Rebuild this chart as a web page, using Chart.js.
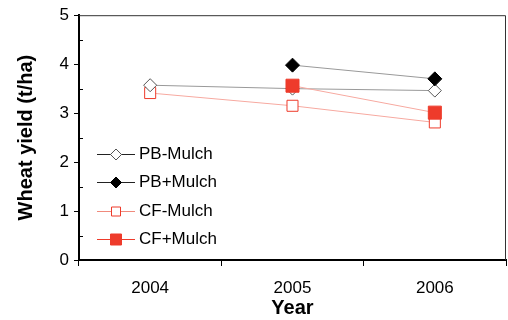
<!DOCTYPE html>
<html lang="en">
<head>
    <meta charset="UTF-8">
    <title>Wheat yield</title>
    <script src="https://cdn.jsdelivr.net/npm/chart.js"></script>
    <style>
        html, body { margin: 0; padding: 0; background: #fff; }
        #wrap { width: 508px; height: 320px; }
    </style>
</head>
<body>
    <div id="wrap"><canvas id="yieldChart" width="508" height="320"></canvas></div>

    <script>
        // values (t/ha)
        var years = ['2004', '2005', '2006'];
        var pbNoMulch = [3.57, 3.50, 3.46];
        var pbMulch = [null, 3.98, 3.70];
        var cfNoMulch = [3.41, 3.15, 2.81];
        var cfMulch = [null, 3.56, 3.01];
        var yTicks = [0, 1, 2, 3, 4, 5];

        var RED = '#ee3b2b';
        var FONT = "'Liberation Sans', Arial, sans-serif";

        // top / right frame plus the small inside minor ticks
        var framePlugin = {
            id: 'frame',
            afterDraw: function (chart) {
                var a = chart.chartArea, c = chart.ctx, y = chart.scales.y;
                c.save();
                c.strokeStyle = '#333';
                c.lineWidth = 1;
                c.beginPath();
                c.moveTo(a.left, a.top + 0.5);
                c.lineTo(a.right - 0.5, a.top + 0.5);
                c.lineTo(a.right - 0.5, a.bottom);
                c.stroke();
                c.strokeStyle = '#000';
                c.beginPath();
                for (var i = 0; i < yTicks.length - 1; i++) {
                    var py = Math.round(y.getPixelForValue(yTicks[i] + 0.5)) + 0.5;
                    c.moveTo(a.left + 1, py);
                    c.lineTo(a.left + 4, py);
                }
                c.stroke();
                c.restore();
            }
        };

        // legend drawn inside the plot: line with a marker in the middle
        var legendPlugin = {
            id: 'innerLegend',
            afterDraw: function (chart) {
                var c = chart.ctx;
                var x0 = 97, x1 = 135, tx = 139, y0 = 154, step = 28.4;
                c.save();
                c.font = '17px ' + FONT;
                c.textBaseline = 'middle';
                chart.data.datasets.forEach(function (ds, i) {
                    var yy = Math.round(y0 + i * step) + 0.5;
                    var mx = (x0 + x1) / 2;
                    c.strokeStyle = ds.legendLine;
                    c.lineWidth = 1;
                    c.beginPath();
                    c.moveTo(x0, yy);
                    c.lineTo(x1, yy);
                    c.stroke();
                    c.beginPath();
                    if (ds.pointStyle === 'rectRot') {
                        var r = 5.5;
                        c.moveTo(mx, yy - r);
                        c.lineTo(mx + r, yy);
                        c.lineTo(mx, yy + r);
                        c.lineTo(mx - r, yy);
                        c.closePath();
                    } else {
                        var h = ds.pointBackgroundColor === '#fff' ? 4.5 : 5.5;
                        c.rect(mx - h, yy - h, 2 * h, 2 * h);
                    }
                    c.fillStyle = ds.pointBackgroundColor;
                    c.fill();
                    c.strokeStyle = ds.pointBorderColor;
                    c.stroke();
                    c.fillStyle = '#000';
                    c.fillText(ds.label, tx, yy);
                });
                c.restore();
            }
        };

        var ctx = document.getElementById('yieldChart').getContext('2d');
        var chart = new Chart(ctx, {
            type: 'line',
            data: {
                labels: years,
                datasets: [
                    {
                        label: 'PB-Mulch',
                        data: pbNoMulch,
                        borderColor: '#999',
                        borderWidth: 1,
                        pointStyle: 'rectRot',
                        pointRadius: 6.5,
                        pointBackgroundColor: '#fff',
                        pointBorderColor: '#555',
                        pointBorderWidth: 1,
                        legendLine: '#222',
                        order: 3
                    },
                    {
                        label: 'PB+Mulch',
                        data: pbMulch,
                        borderColor: '#999',
                        borderWidth: 1,
                        pointStyle: 'rectRot',
                        pointRadius: 7,
                        pointBackgroundColor: '#000',
                        pointBorderColor: '#000',
                        pointBorderWidth: 1,
                        legendLine: '#222',
                        order: 2
                    },
                    {
                        label: 'CF-Mulch',
                        data: cfNoMulch,
                        borderColor: '#f7a9a0',
                        borderWidth: 1,
                        pointStyle: 'rect',
                        pointRadius: 7.8,
                        pointBackgroundColor: '#fff',
                        pointBorderColor: RED,
                        pointBorderWidth: 1,
                        legendLine: '#f08a7c',
                        order: 4
                    },
                    {
                        label: 'CF+Mulch',
                        data: cfMulch,
                        borderColor: '#f7a9a0',
                        borderWidth: 1,
                        pointStyle: 'rect',
                        pointRadius: 9.2,
                        pointBackgroundColor: RED,
                        pointBorderColor: RED,
                        pointBorderWidth: 1,
                        legendLine: RED,
                        order: 1
                    }
                ]
            },
            options: {
                responsive: false,
                animation: false,
                spanGaps: false,
                layout: { autoPadding: false, padding: { left: 0, right: 2, top: 13, bottom: 0 } },
                plugins: {
                    legend: { display: false },
                    tooltip: { enabled: false }
                },
                scales: {
                    x: {
                        offset: true,
                        grid: {
                            offset: true,
                            drawOnChartArea: false,
                            drawTicks: true,
                            tickLength: 6,
                            tickColor: '#000'
                        },
                        border: { color: '#000', width: 2 },
                        ticks: { color: '#000', padding: 12, font: { family: FONT, size: 17 } },
                        title: {
                            display: true,
                            text: 'Year',
                            color: '#000',
                            padding: { top: 0, bottom: 0 },
                            font: { family: FONT, size: 20, weight: 'bold' }
                        },
                        afterFit: function (s) { s.height = 60; }
                    },
                    y: {
                        min: 0,
                        max: 5,
                        afterBuildTicks: function (s) {
                            s.ticks = yTicks.map(function (v) { return { value: v }; });
                        },
                        grid: {
                            drawOnChartArea: false,
                            drawTicks: true,
                            tickLength: 5,
                            tickColor: '#000'
                        },
                        border: { color: '#000', width: 2 },
                        ticks: { color: '#000', padding: 5, font: { family: FONT, size: 17 } },
                        title: {
                            display: true,
                            text: 'Wheat yield (t/ha)',
                            color: '#000',
                            padding: { top: 14, bottom: 0 },
                            font: { family: FONT, size: 20, weight: 'bold' }
                        },
                        afterFit: function (s) { s.width = 79; }
                    }
                }
            },
            plugins: [framePlugin, legendPlugin]
        });
    </script>
</body>
</html>
